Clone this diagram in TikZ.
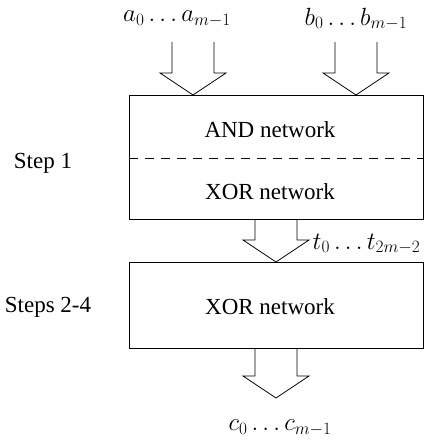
\documentclass[tikz,border=0pt]{standalone}
\usepackage[no-math]{fontspec}
\setmainfont{Liberation Serif}
\usetikzlibrary{calc}
\newcommand\myblockarrow[2]{%
  \draw[blk] ($(#1)+(-21,-#2)$) -- ++(0,#2-22) -- ++(-12,0) -- (#1) -- ++(33,-22) -- ++(-12,0) -- ++(0,22-#2);}
\begin{document}
\begin{tikzpicture}[x=1pt,y=-1pt,line width=0.8pt,
  netbox/.style={draw,rectangle,inner sep=0pt},
  lbl/.style={font=\fontsize{23}{27}\selectfont},
  mlbl/.style={font=\fontsize{26}{30}\selectfont},
  blk/.style={draw,line join=miter}]
\useasboundingbox (0,0) rectangle (443,440);
\node[netbox,minimum width=294pt,minimum height=124pt] (box1) at (276,157) {};
\node[netbox,minimum width=294pt,minimum height=86pt] (box2) at (276,305) {};
\draw[dash pattern=on 9pt off 7pt] (box1.west |- 0,158) -- (box1.east |- 0,158);
\node[lbl] (and) at (270,130) {AND network};
\node[lbl] (xor1) at (270,192) {XOR network};
\node[lbl] (xor2) at (270,307) {XOR network};
\node[lbl] (s1) at (43,163) {Step 1};
\node[lbl] (s2) at (48,307) {Steps 2-4};
\node[mlbl] (a) at (177,19) {$a_0\ldots a_{m-1}$};
\node[mlbl] (b) at (356,19) {$b_0\ldots b_{m-1}$};
\node[mlbl,anchor=west] (t) at (309,244) {$t_0\ldots t_{2m-2}$};
\node[mlbl] (c) at (280,428) {$c_0\ldots c_{m-1}$};
\coordinate (atip) at (193,95);
\coordinate (btip) at (356,95);
\coordinate (ttip) at (276,262);
\coordinate (ctip) at (276,398);
\myblockarrow{atip}{53}
\myblockarrow{btip}{53}
\myblockarrow{ttip}{43}
\myblockarrow{ctip}{50}
\end{tikzpicture}
\end{document}
